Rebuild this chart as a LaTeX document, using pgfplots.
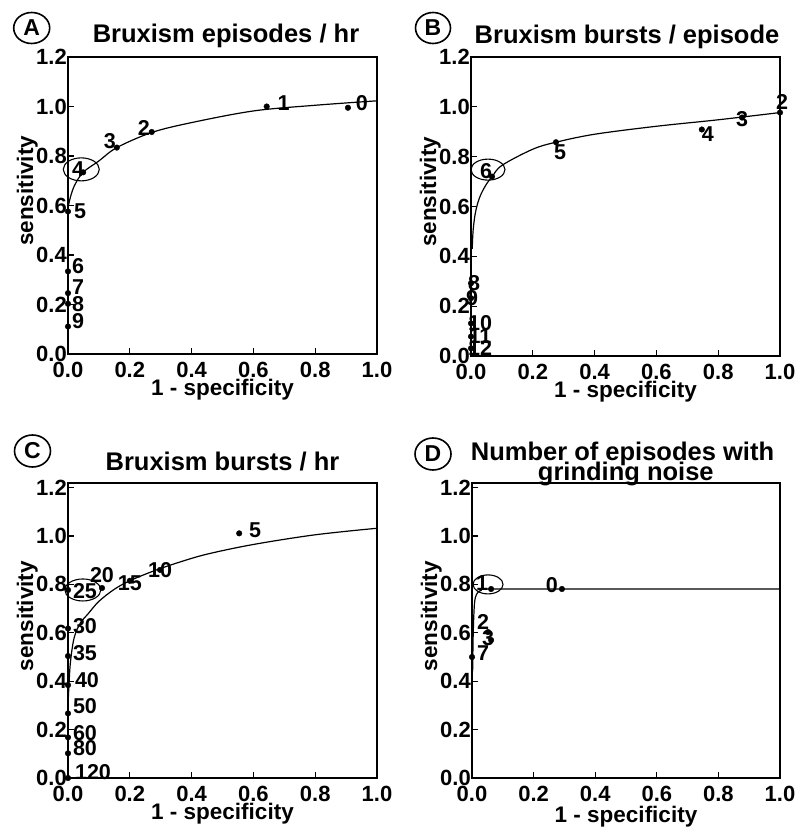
\documentclass[border=0pt]{standalone}
\usepackage{fontspec}
\setmainfont{Liberation Sans}
\usepackage{pgfplots}
\pgfplotsset{compat=1.18}

\newcommand{\tickfont}{\fontsize{22}{26}\selectfont\bfseries}
\newcommand{\labfont}{\fontsize{22.5}{26}\selectfont\bfseries}
\newcommand{\titfont}{\fontsize{25.5}{28}\selectfont\bfseries}
\newcommand{\ptfont}{\fontsize{21.5}{24}\selectfont\bfseries}
\newcommand{\circfont}{\fontsize{23}{26}\selectfont\bfseries}

\pgfplotsset{
  roc/.style={
    scale only axis, xmin=0, xmax=1, ymin=0,
    xtick={0,0.2,0.4,0.6,0.8,1.0}, ytick={0,0.2,0.4,0.6,0.8,1.0,1.2},
    tick align=inside, xtick pos=bottom, ytick pos=left,
    major tick length=6pt,
    tick style={black, line width=1.2pt},
    axis line style={line width=1.4pt},
    clip=false,
    tick label style={font=\tickfont,
      /pgf/number format/fixed, /pgf/number format/fixed zerofill,
      /pgf/number format/precision=1, /pgf/number format/assume math mode=true},
    xticklabel style={inner sep=0pt, anchor=north, yshift=-8pt},
    yticklabel style={inner sep=0pt, anchor=east, xshift=-1pt},
    xlabel={1 - specificity}, ylabel={sensitivity},
    label style={font=\labfont},
    xlabel style={at={(axis description cs:0.5,0)}, anchor=base, yshift=-41pt},
    ylabel style={at={(axis description cs:-0.113,0.549)}, anchor=base},
  },
  pts/.style={only marks, mark=*, mark size=2.8pt, black,
    nodes near coords, point meta=explicit symbolic,
    visualization depends on={value \thisrow{dx}\as\ldx},
    visualization depends on={value \thisrow{dy}\as\ldy},
    every node near coord/.append style={anchor=center, xshift=\ldx pt, yshift=\ldy pt,
      font=\ptfont, inner sep=0pt, text=black}},
  lbls/.style={pts, mark options={draw=none, fill=none}},
  fit/.style={black, line width=1.2pt, smooth, tension=0.55, mark=none},
}

\begin{document}
\begin{tikzpicture}
\useasboundingbox (0pt,0pt) rectangle (802pt,-834pt);

% ---------------- A ----------------
\begin{axis}[roc, at={(68pt,-354pt)}, anchor=south west, width=309pt, height=297pt, ymax=1.2]
\addplot[fit] coordinates {(0,0.43) (0,0.5) (0,0.58) (0.005,0.62) (0.02,0.678) (0.049,0.734) (0.1,0.78) (0.158,0.834) (0.271,0.895) (0.4,0.935) (0.6,0.982) (0.8,1.005) (1.0,1.023)};
\addplot[pts] table[meta=lab] {
x y lab dx dy
0.906 0.995 0 14 5
0.643 1.0 1 17 3
0.271 0.897 2 -8 4
0.158 0.834 3 -7 6
0.049 0.734 4 -5 3
0 0.576 5 12 0
0 0.334 6 10 5
0 0.246 7 10 6
0 0.203 8 10 0
0 0.111 9 10 5
};
\draw[line width=1.1pt] (axis cs:0.043,0.746) ellipse [x radius=18pt, y radius=11.5pt];
\end{axis}

% ---------------- B ----------------
\begin{axis}[roc, at={(471pt,-356pt)}, anchor=south west, width=309pt, height=299pt, ymax=1.2]
\addplot[fit] coordinates {(0.004,0.43) (0.007,0.506) (0.015,0.58) (0.029,0.64) (0.05,0.69) (0.068,0.719) (0.1,0.765) (0.2,0.83) (0.275,0.858) (0.4,0.89) (0.6,0.922) (0.8,0.948) (1.0,0.977)};
\addplot[pts] table[meta=lab] {
x y lab dx dy
0.747 0.909 4 6 -5
0.068 0.72 6 -6 6
};
\addplot[lbls] table[meta=lab] {
x y lab dx dy
1.0 0.977 2 2 11
0.877 0.957 3 0 -2
0.275 0.858 5 4 -10
0 0.292 8 3 0
0 0.232 9 1 0
0 0.131 10 9 0
0 0.078 11 9 0
0 0.031 12 9 0
};
\draw[line width=1.1pt] (axis cs:0.055,0.748) ellipse [x radius=17pt, y radius=10.5pt];
\end{axis}

% ---------------- C ----------------
\begin{axis}[roc, at={(68pt,-778pt)}, anchor=south west, width=309pt, height=295pt, ymax=1.219]
\addplot[fit] coordinates {(0,0.3) (0.003,0.38) (0.008,0.48) (0.02,0.58) (0.04,0.64) (0.066,0.68) (0.1,0.73) (0.15,0.78) (0.2,0.815) (0.276,0.855) (0.356,0.89) (0.45,0.925) (0.6,0.965) (0.8,1.005) (1.0,1.032)};
\addplot[pts] table[meta=lab] {
x y lab dx dy
0.554 1.011 5 16 3
0.11 0.785 20 0 12.5
0 0.777 25 17 -1
0 0.618 30 17 2
0 0.504 35 17 3
0 0.384 40 19 5
0 0.267 50 17 7
0 0.168 60 17 4
0 0.102 80 17 5
0 0 120 25 6
};
\addplot[lbls] table[meta=lab] {
x y lab dx dy
0.298 0.86 10 0 0
0.2 0.815 15 0 -2
};
\draw[line width=1.1pt] (axis cs:0.048,0.777) ellipse [x radius=18pt, y radius=11pt];
\end{axis}

% ---------------- D ----------------
\begin{axis}[roc, at={(472pt,-778pt)}, anchor=south west, width=308pt, height=295pt, ymax=1.219, xlabel style={yshift=-3pt}]
\addplot[fit] coordinates {(0.002,0.44) (0.004,0.6) (0.008,0.72) (0.015,0.76) (0.03,0.776) (0.06,0.781) (0.3,0.781) (1.0,0.781)};
\addplot[pts] table[meta=lab] {
x y lab dx dy
0.062 0.781 1 -9 6
0.292 0.781 0 -10 4
0.052 0.603 2 -5 10
0.062 0.57 3 -3 2
0 0.5 7 11 4
};
\draw[line width=1.1pt] (axis cs:0.052,0.80) ellipse [x radius=15pt, y radius=9.5pt];
\end{axis}

% titles
\node[font=\titfont, anchor=base] at (226pt,-43pt) {Bruxism episodes / hr};
\node[font=\titfont, anchor=base] at (627pt,-43.3pt) {Bruxism bursts / episode};
\node[font=\titfont, anchor=base] at (222.5pt,-470pt) {Bruxism bursts / hr};
\node[font=\titfont, anchor=base] at (622.5pt,-460pt) {Number of episodes with};
\node[font=\titfont, anchor=base] at (625.8pt,-480pt) {grinding noise};

% panel letters
\draw[line width=1.6pt] (31.7pt,-28pt) ellipse [x radius=18pt, y radius=15.5pt];
\node[font=\circfont] at (31.7pt,-28pt) {A};
\draw[line width=1.6pt] (433pt,-28pt) ellipse [x radius=17.5pt, y radius=15.5pt];
\node[font=\circfont] at (433pt,-28pt) {B};
\draw[line width=1.6pt] (32.5pt,-451pt) ellipse [x radius=18pt, y radius=16pt];
\node[font=\circfont] at (32.5pt,-451pt) {C};
\draw[line width=1.6pt] (433pt,-454pt) ellipse [x radius=18pt, y radius=16pt];
\node[font=\circfont] at (433pt,-454pt) {D};
\end{tikzpicture}
\end{document}
